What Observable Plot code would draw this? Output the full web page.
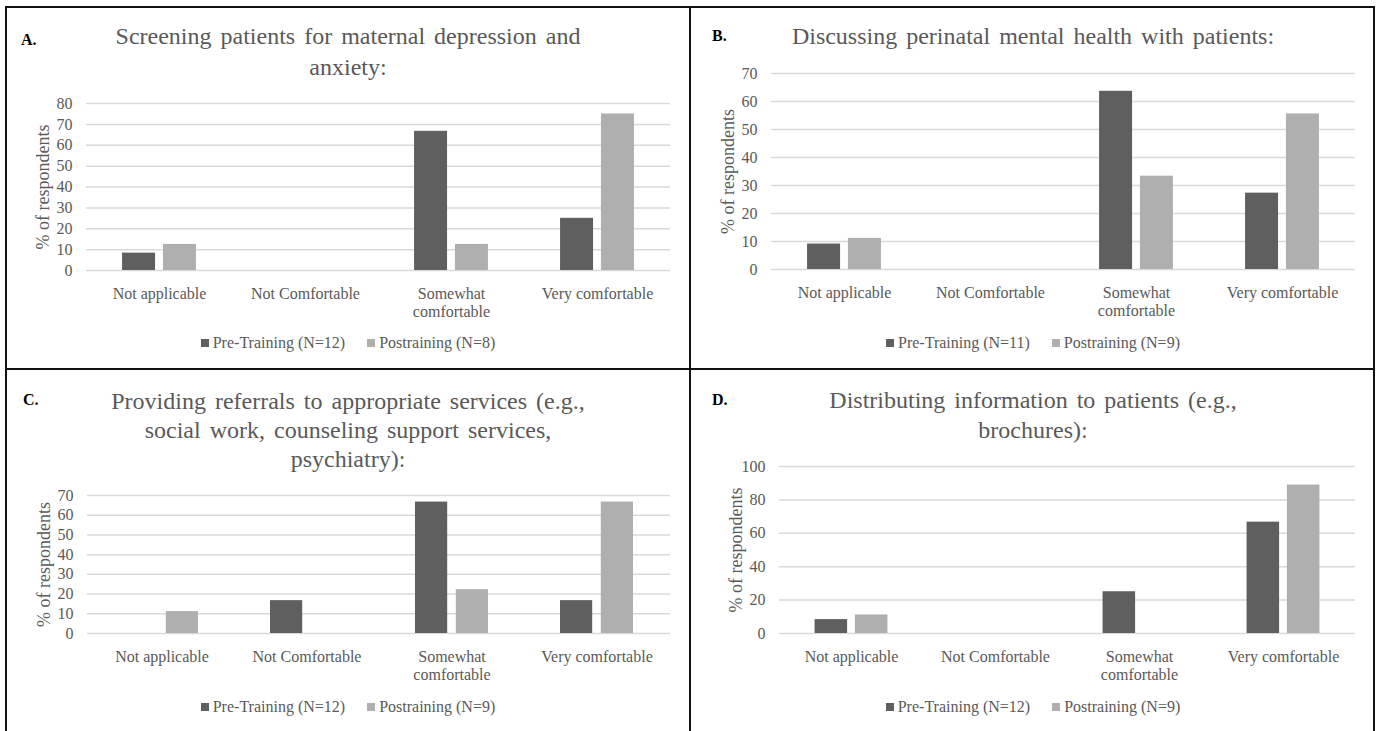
<!DOCTYPE html>
<html><head><meta charset="utf-8">
<script src="https://cdn.jsdelivr.net/npm/d3@7"></script>
<script src="https://cdn.jsdelivr.net/npm/@observablehq/plot@0.6"></script>
<style>
body{margin:0;background:#fff;}
#page{position:relative;width:1379px;height:731px;overflow:hidden;font-family:"Liberation Serif","Times New Roman",serif;background:#fff;}
.line{position:absolute;background:#111;}
.title{position:absolute;text-align:center;color:#595959;font-size:24px;word-spacing:3px;white-space:nowrap;}
.tag{position:absolute;font-weight:bold;font-size:16px;color:#000;line-height:18px;}
.legend{position:absolute;display:flex;justify-content:center;align-items:center;gap:22px;color:#595959;font-size:16px;height:18px;line-height:18px;}
.sw{display:inline-block;width:8px;height:8px;margin-right:4px;vertical-align:middle;position:relative;top:-1px;}
.plot{position:absolute;}
</style></head><body><div id="page"></div>
<script>
// ---- data ----
const categories = ["Not applicable", "Not Comfortable", "Somewhat comfortable", "Very comfortable"];
const categoryTickLabels = ["Not applicable", "Not Comfortable", "Somewhat\ncomfortable", "Very comfortable"];
const seriesNames = ["Pre-Training", "Postraining"];
const yLabel = "% of respondents";

const preA = [8.33, 0, 66.67, 25];
const postA = [12.5, 0, 12.5, 75];
const preB = [9.09, 0, 63.64, 27.27];
const postB = [11.11, 0, 33.33, 55.56];
const preC = [0, 16.67, 66.67, 16.67];
const postC = [11.11, 0, 22.22, 66.67];
const preD = [8.33, 0, 25, 66.67];
const postD = [11.11, 0, 0, 88.89];

const nA = [12, 8], nB = [11, 9], nC = [12, 9], nD = [12, 9];
const ticksA = [0, 10, 20, 30, 40, 50, 60, 70, 80];
const ticksB = [0, 10, 20, 30, 40, 50, 60, 70];
const ticksC = [0, 10, 20, 30, 40, 50, 60, 70];
const ticksD = [0, 20, 40, 60, 80, 100];

const titleA = ["Screening patients for maternal depression and", "anxiety:"];
const titleB = ["Discussing perinatal mental health with patients:"];
const titleC = ["Providing referrals to appropriate services (e.g.,", "social work, counseling support services,", "psychiatry):"];
const titleD = ["Distributing information to patients (e.g.,", "brochures):"];

const darkColor = "#5f5f5f";
const lightColor = "#afafaf";

// ---- layout ----
const page = document.getElementById("page");
function add(cls, css, html) {
  const d = document.createElement("div");
  d.className = cls;
  Object.assign(d.style, css);
  if (html != null) d.innerHTML = html;
  page.appendChild(d);
  return d;
}
// frame lines
add("line", {left: "5px", top: "6px", width: "1370px", height: "2px"});
add("line", {left: "5px", top: "6px", width: "2px", height: "730px"});
add("line", {left: "1373px", top: "6px", width: "2px", height: "730px"});
add("line", {left: "689px", top: "6px", width: "2px", height: "730px"});
add("line", {left: "5px", top: "368px", width: "1370px", height: "2px"});

const panels = [
  {tag: "A.", title: titleA, pre: preA, post: postA, n: nA, ticks: ticksA,
   px: 6, pw: 684, tagX: 21, tagY: 31, titleY: 21, lh: 31,
   svg: {left: 6, top: 93, width: 682, height: 232, mL: 80, mR: 18, mT: 10, mB: 55}, legendY: 334},
  {tag: "B.", title: titleB, pre: preB, post: postB, n: nB, ticks: ticksB,
   px: 691, pw: 684, tagX: 712, tagY: 27, titleY: 21, lh: 31,
   svg: {left: 692, top: 60, width: 684, height: 265, mL: 79, mR: 21, mT: 13, mB: 56}, legendY: 334},
  {tag: "C.", title: titleC, pre: preC, post: postC, n: nC, ticks: ticksC,
   px: 6, pw: 684, tagX: 23, tagY: 391, titleY: 387, lh: 29,
   svg: {left: 6, top: 483, width: 682, height: 205, mL: 81, mR: 18, mT: 12, mB: 55}, legendY: 698},
  {tag: "D.", title: titleD, pre: preD, post: postD, n: nD, ticks: ticksD,
   px: 691, pw: 684, tagX: 712, tagY: 391, titleY: 385, lh: 30,
   svg: {left: 692, top: 454, width: 684, height: 234, mL: 87, mR: 21, mT: 12, mB: 55}, legendY: 698}
];

for (const p of panels) {
  add("tag", {left: p.tagX + "px", top: p.tagY + "px"}, p.tag);
  add("title", {left: p.px + "px", width: p.pw + "px", top: p.titleY + "px", lineHeight: p.lh + "px"},
      p.title.join("<br>"));

  const rows = categories.map((c, i) => ({category: c, pre: p.pre[i], post: p.post[i]}));
  const s = p.svg;
  const bw = (s.width - s.mL - s.mR) / categories.length;
  const yMax = p.ticks[p.ticks.length - 1];
  const chart = Plot.plot({
    width: s.width, height: s.height,
    marginLeft: s.mL, marginRight: s.mR, marginTop: s.mT, marginBottom: s.mB,
    style: {fontFamily: "'Liberation Serif', 'Times New Roman', serif", fontSize: "16px", color: "#595959", background: "transparent", overflow: "visible"},
    x: {domain: categories, padding: 0, label: null},
    y: {domain: [0, yMax], label: null},
    marks: [
      Plot.gridY(p.ticks, {stroke: "#d9d9d9", strokeOpacity: 1, strokeWidth: 1.5}),
      Plot.barY(rows, {x: "category", y: "pre", fill: darkColor, insetLeft: bw * 0.247, insetRight: bw * 0.527}),
      Plot.barY(rows, {x: "category", y: "post", fill: lightColor, insetLeft: bw * 0.527, insetRight: bw * 0.247}),
      Plot.axisY(p.ticks, {tickSize: 0, tickPadding: 14, label: null, fontSize: 16}),
      Plot.axisX({tickSize: 0, tickPadding: 15, fontSize: 16, lineHeight: 1.15, label: null,
                  tickFormat: d => categoryTickLabels[categories.indexOf(d)]}),
      Plot.text([yLabel], {text: d => d, frameAnchor: "left", textAnchor: "middle", lineAnchor: "middle",
                           rotate: -90, dx: -43, fontSize: 18, fill: "#595959"})
    ]
  });
  chart.classList.add("plot");
  chart.style.left = s.left + "px";
  chart.style.top = s.top + "px";
  chart.style.position = "absolute";
  page.appendChild(chart);

  add("legend", {left: p.px + "px", width: p.pw + "px", top: p.legendY + "px"},
    `<span><span class="sw" style="background:${darkColor}"></span>${seriesNames[0]} (N=${p.n[0]})</span>` +
    `<span><span class="sw" style="background:${lightColor}"></span>${seriesNames[1]} (N=${p.n[1]})</span>`);
}
</script></body></html>
